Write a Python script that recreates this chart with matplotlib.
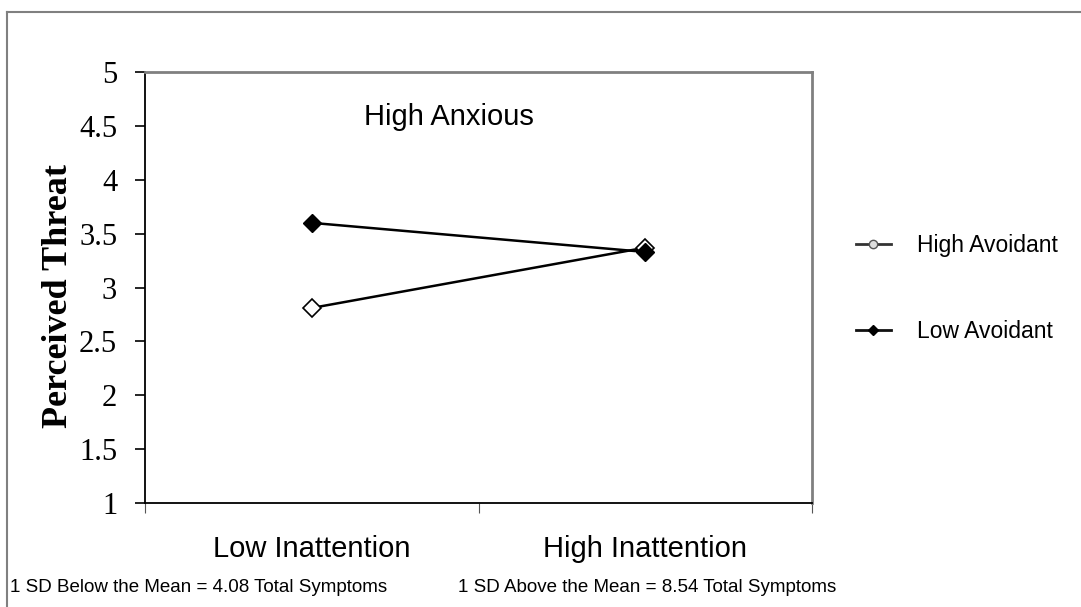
import matplotlib
matplotlib.use('Agg')
import matplotlib.pyplot as plt
from matplotlib.lines import Line2D

# values
categories = ['Low Inattention', 'High Inattention']
high_avoidant = [2.81, 3.37]
low_avoidant = [3.60, 3.33]
series_names = ['High Avoidant', 'Low Avoidant']
y_ticks = [1, 1.5, 2, 2.5, 3, 3.5, 4, 4.5, 5]
y_tick_labels = ['1', '1.5', '2', '2.5', '3', '3.5', '4', '4.5', '5']
sd_notes = ['1 SD Below the Mean = 4.08 Total Symptoms',
            '1 SD Above the Mean = 8.54 Total Symptoms']

SANS = 'Liberation Sans'
SERIF = 'Liberation Serif'

fig = plt.figure(figsize=(10.81, 6.07), dpi=100)
ax = fig.add_axes([0.1341, 0.1713, 0.6171, 0.7101])

x = list(range(len(categories)))
ax.plot(x, high_avoidant, color='black', lw=1.8, marker='D', ms=9,
        mfc='white', mec='black', mew=1.2, zorder=3)
ax.plot(x, low_avoidant, color='black', lw=1.8, marker='D', ms=9,
        mfc='black', mec='black', zorder=4)

ax.set_xlim(-0.5, len(categories) - 0.5)
ax.set_ylim(1, 5)

# y axis
ax.set_yticks(y_ticks)
ax.set_yticklabels(y_tick_labels, family=SERIF, fontsize=22)
ax.tick_params(axis='y', direction='out', length=7, width=1.2, pad=13)

# x axis: boundary ticks, labels centred on categories
ax.set_xticks([i - 0.5 for i in range(len(categories) + 1)])
ax.set_xticklabels([])
ax.tick_params(axis='x', which='major', direction='out', length=7, width=0.8, color='#555555')
ax.set_xticks(x, minor=True)
ax.set_xticklabels(categories, minor=True, family=SANS, fontsize=21)
ax.tick_params(axis='x', which='minor', length=0, pad=23)

for side in ['left', 'bottom']:
    ax.spines[side].set_color('black')
    ax.spines[side].set_linewidth(1.3)
for side in ['top', 'right']:
    ax.spines[side].set_color('#808080')
    ax.spines[side].set_linewidth(2)

ax.text(0.455, 0.895, 'High Anxious', transform=ax.transAxes, ha='center', va='center',
        family=SANS, fontsize=21)

fig.text(0.054, 0.512, 'Perceived Threat', rotation=90, ha='center', va='center',
         family=SERIF, fontsize=26, fontweight='bold')

# legend
handles = [
    Line2D([], [], color='#333333', lw=2, marker='o', ms=6, mfc='#dddddd', mec='#555555'),
    Line2D([], [], color='#111111', lw=2, marker='D', ms=5, mfc='black', mec='black'),
]
fig.legend(handles, series_names, loc='upper left', bbox_to_anchor=(0.773, 0.648),
           frameon=False, prop={'family': SANS, 'size': 16.5}, handlelength=1.5,
           handletextpad=1.15, labelspacing=2.75)

# notes under the axis
fig.text(10 / 1081, 1 - 588 / 607, sd_notes[0], ha='left', va='center', family=SANS, fontsize=13.5)
fig.text(458 / 1081, 1 - 588 / 607, sd_notes[1], ha='left', va='center', family=SANS, fontsize=13.5)

# outer frame (left and top edges visible)
fig.add_artist(Line2D([7 / 1081, 7 / 1081], [0, 1 - 12 / 607], transform=fig.transFigure,
                      color='#808080', lw=1.5))
fig.add_artist(Line2D([7 / 1081, 1], [1 - 12 / 607, 1 - 12 / 607], transform=fig.transFigure,
                      color='#808080', lw=1.5))

fig.savefig('out.png', dpi=100)
